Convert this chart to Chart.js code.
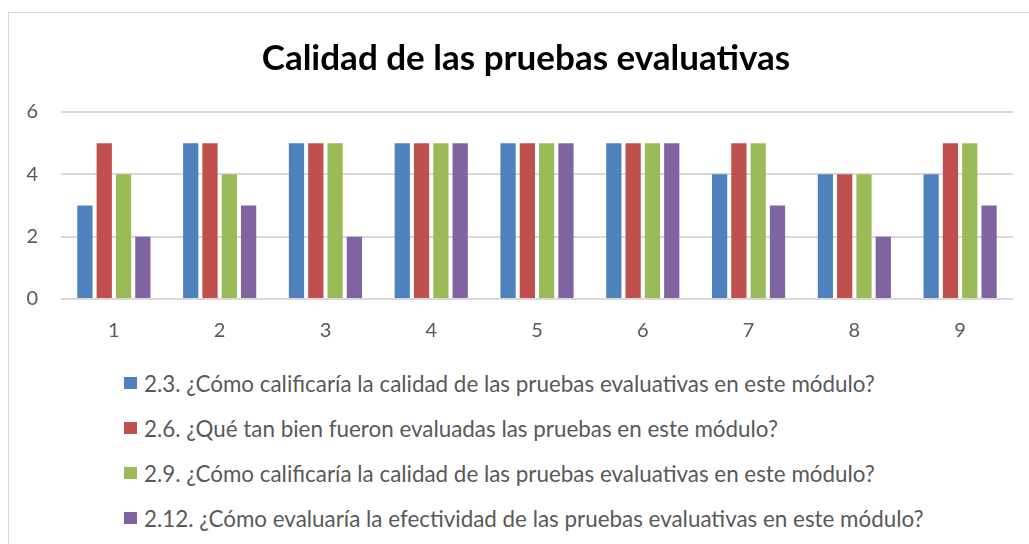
<!DOCTYPE html>
<html>
<head>
<meta charset="utf-8">
<script src="https://cdn.jsdelivr.net/npm/chart.js@4.4.0/dist/chart.umd.min.js"></script>
<style>
  body { margin: 0; width: 1029px; height: 544px; overflow: hidden; background: #fff; font-family: Lato, sans-serif; }
  #frame { position: absolute; left: 8px; top: 12px; width: 1100px; height: 600px; border: 1px solid #d9d9d9; }
  #chart-box { position: absolute; left: 0; top: 0; width: 1029px; height: 355px; }
  #legend { position: absolute; left: 124px; top: 360px; }
  .item { position: absolute; left: 0; height: 24px; display: flex; align-items: center; white-space: nowrap; font-size: 22.4px; color: #595959; }
  .swatch { width: 13px; height: 12px; margin-right: 7px; flex: none; }
</style>
</head>
<body>
<div id="frame"></div>
<div id="chart-box"><canvas id="chart"></canvas></div>
<div id="legend"></div>
<script>
const categories = ["1", "2", "3", "4", "5", "6", "7", "8", "9"];
const seriesNames = [
  "2.3. ¿Cómo calificaría la calidad de las pruebas evaluativas en este módulo?",
  "2.6. ¿Qué tan bien fueron evaluadas las pruebas en este módulo?",
  "2.9. ¿Cómo calificaría la calidad de las pruebas evaluativas en este módulo?",
  "2.12. ¿Cómo evaluaría la efectividad de las pruebas evaluativas en este módulo?"
];
const serie23 = [3, 5, 5, 5, 5, 5, 4, 4, 4];
const serie26 = [5, 5, 5, 5, 5, 5, 5, 4, 5];
const serie29 = [4, 4, 5, 5, 5, 5, 5, 4, 5];
const serie212 = [2, 3, 2, 5, 5, 5, 3, 2, 3];
const colors = ["#4F81BD", "#C0504D", "#9BBB59", "#8064A2"];

const allSeries = [serie23, serie26, serie29, serie212];

// nudge the title to the right so it sits where the original one is
const titleShift = {
  id: "titleShift",
  afterLayout(chart) {
    if (chart.titleBlock) chart.titleBlock.left += 19;
  },
};

const ctx = document.getElementById("chart").getContext("2d");
const chart = new Chart(ctx, {
  type: "bar",
  data: {
    labels: categories,
    datasets: allSeries.map((values, i) => ({
      label: seriesNames[i],
      data: values,
      backgroundColor: colors[i],
      barPercentage: 0.79,
      categoryPercentage: 0.73,
    })),
  },
  options: {
    responsive: true,
    maintainAspectRatio: false,
    animation: false,
    layout: { padding: { left: 20, right: 16, top: 38, bottom: 0 } },
    plugins: {
      legend: { display: false },
      tooltip: { enabled: false },
      title: {
        display: true,
        text: "Calidad de las pruebas evaluativas",
        color: "#000",
        font: { family: "Lato", size: 35, weight: "bold" },
        padding: { top: 0, bottom: 32 },
      },
    },
    scales: {
      x: {
        grid: { display: false },
        border: { display: false },
        ticks: { color: "#595959", font: { family: "Lato", size: 20 }, padding: 12 },
      },
      y: {
        min: 0,
        max: 6,
        afterFit: (scale) => { scale.width = 41; },
        grid: { color: "#d9d9d9", lineWidth: 2, drawTicks: false },
        border: { display: false },
        ticks: { stepSize: 2, color: "#595959", font: { family: "Lato", size: 20 }, padding: 23 },
      },
    },
  },
  plugins: [titleShift],
});

// legend below, one item per row
const legendEl = document.getElementById("legend");
seriesNames.forEach((name, i) => {
  const row = document.createElement("div");
  row.className = "item";
  row.style.top = (11 + i * 45) + "px";
  row.innerHTML = `<span class="swatch" style="background:${colors[i]}"></span><span>${name}</span>`;
  legendEl.appendChild(row);
});
</script>
</body>
</html>
